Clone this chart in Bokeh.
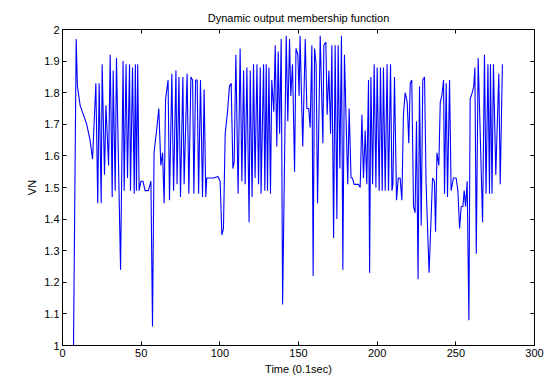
from bokeh.plotting import figure
from bokeh.models import LinearAxis, FixedTicker, Range1d
from bokeh.embed import file_html
from bokeh.resources import INLINE

time = [0, 7.0, 8.7, 9.5, 11.2, 13.3, 15.4, 17.5, 19.1, 21.2, 22.4, 23.3, 24.6, 25.2, 26.7, 27.6,
        29.3, 30.3, 31.6, 32.2, 33.5, 34.3, 36.9, 38.5, 39.2, 40.4, 41.3, 42.6, 43.2, 44.5, 45.6,
        46.3, 47.0, 47.8, 48.7, 49.8, 51.1, 52.5, 54.6, 56.2, 57.2, 58.2, 60.0, 61.2, 62.5, 63.6,
        64.6, 65.5, 67.1, 68.0, 69.5, 70.6, 72.1, 72.8, 74.0, 75.0, 76.5, 77.3, 79.2, 80.3, 81.6,
        82.7, 83.5, 84.6, 85.6, 86.5, 87.7, 89.0, 90.0, 91.1, 91.7, 94.7, 96.0, 98.8, 100.2, 101.3,
        102.3, 103.4, 104.9, 106.1, 107.2, 108.3, 109.1, 110.2, 111.6, 112.9, 114.0, 115.1, 116.1,
        117.2, 118.6, 119.3, 120.5, 121.4, 122.4, 123.6, 124.6, 125.7, 126.2, 127.8, 128.6, 129.5,
        130.3, 131.2, 132.2, 133.0, 134.3, 135.2, 136.2, 137.1, 138.0, 139.0, 139.9, 142.2, 143.2,
        144.3, 145.1, 146.2, 147.5, 148.4, 149.6, 150.4, 151.0, 152.7, 154.3, 155.3, 156.5, 157.4,
        158.5, 159.3, 160.2, 161.2, 162.1, 163.8, 165.5, 166.1, 167.4, 168.2, 169.3, 170.4, 171.2,
        172.3, 173.3, 174.4, 175.2, 176.3, 177.3, 178.2, 179.2, 181.3, 182.2, 183.4, 184.3, 185.3,
        187.1, 188.1, 189.2, 190.3, 191.3, 192.4, 193.4, 194.5, 195.2, 196.0, 197.1, 198.1, 199.2,
        200.0, 201.3, 202.1, 203.2, 204.0, 205.1, 206.3, 207.2, 208.5, 209.4, 210.0, 211.0, 212.3,
        213.4, 214.6, 215.7, 216.7, 217.8, 219.1, 220.1, 221.0, 222.0, 223.1, 224.1, 225.0, 226.0,
        226.9, 228.0, 229.0, 230.1, 231.1, 233.0, 235.2, 236.4, 237.1, 238.0, 239.2, 240.1, 241.1,
        242.2, 242.8, 243.9, 244.7, 246.0, 247.0, 248.5, 250.2, 251.3, 252.4, 253.4, 254.5, 255.3,
        256.2, 257.2, 258.3, 259.1, 260.4, 261.4, 262.1, 263.0, 264.2, 267.0, 268.2, 269.2, 270.4,
        271.4, 272.0, 273.0, 273.9, 275.4, 277.3, 278.2, 279.6]

vn = [1.0, 1.0, 1.97, 1.82, 1.76, 1.73, 1.70, 1.65, 1.59, 1.83, 1.45, 1.83, 1.45, 1.89, 1.54, 1.76,
      1.57, 1.92, 1.47, 1.87, 1.49, 1.91, 1.24, 1.90, 1.49, 1.89, 1.53, 1.89, 1.49, 1.88, 1.48,
      1.89, 1.49, 1.89, 1.49, 1.52, 1.52, 1.49, 1.49, 1.52, 1.06, 1.61, 1.69, 1.75, 1.57, 1.61,
      1.45, 1.78, 1.84, 1.46, 1.86, 1.49, 1.87, 1.51, 1.85, 1.47, 1.85, 1.51, 1.86, 1.48, 1.85,
      1.84, 1.48, 1.84, 1.84, 1.48, 1.84, 1.47, 1.81, 1.47, 1.53, 1.53, 1.53, 1.535, 1.52, 1.35,
      1.37, 1.67, 1.74, 1.82, 1.83, 1.56, 1.58, 1.92, 1.48, 1.94, 1.52, 1.87, 1.51,
      1.88, 1.39, 1.87, 1.47, 1.89, 1.53, 1.89, 1.51, 1.88, 1.48, 1.89, 1.49, 1.89,
      1.49, 1.88, 1.48, 1.84, 1.74, 1.95, 1.63, 1.93, 1.67, 1.97, 1.13, 1.98, 1.71,
      1.97, 1.79, 1.89, 1.55, 1.94, 1.92, 1.79, 1.98, 1.63, 1.97, 1.75, 1.75, 1.69,
      1.95, 1.22, 1.94, 1.89, 1.45, 1.98, 1.64, 1.95, 1.96, 1.73, 1.87, 1.67, 1.95,
      1.34, 1.95, 1.40, 1.95, 1.56, 1.98, 1.24, 1.92, 1.51, 1.75, 1.53, 1.53, 1.51,
      1.51, 1.51, 1.50, 1.73, 1.53, 1.68, 1.51, 1.84, 1.23, 1.85, 1.51, 1.89, 1.50,
      1.88, 1.49, 1.88, 1.49, 1.88, 1.49, 1.89, 1.49, 1.89, 1.49, 1.51, 1.85, 1.46,
      1.53, 1.53, 1.46, 1.73, 1.80, 1.77, 1.64, 1.83, 1.84, 1.44, 1.42, 1.71, 1.21,
      1.82, 1.38, 1.84, 1.85, 1.51, 1.23, 1.53, 1.52, 1.36, 1.61, 1.57, 1.77, 1.79,
      1.84, 1.48, 1.83, 1.47, 1.84, 1.49, 1.53, 1.53, 1.49, 1.37, 1.44, 1.44, 1.49,
      1.44, 1.52, 1.08, 1.78, 1.80, 1.82, 1.88, 1.29, 1.91, 1.39, 1.92, 1.48, 1.89,
      1.48, 1.89, 1.48, 1.89, 1.54, 1.86, 1.51, 1.89]

x_ticks = [0, 50, 100, 150, 200, 250, 300]
y_ticks = [1.0, 1.1, 1.2, 1.3, 1.4, 1.5, 1.6, 1.7, 1.8, 1.9, 2.0]
y_tick_labels = ["1", "1.1", "1.2", "1.3", "1.4", "1.5", "1.6", "1.7", "1.8", "1.9", "2"]

FONT = "Liberation Sans"

p = figure(width=548, height=378, x_range=Range1d(0, 300), y_range=Range1d(1, 2),
           output_backend="svg", toolbar_location=None,
           title="Dynamic output membership function",
           min_border_left=62, min_border_right=14, min_border_top=29, min_border_bottom=33)

p.line(time, vn, line_color="#0000ff", line_width=1.1)

p.xgrid.visible = False
p.ygrid.visible = False
p.outline_line_color = "black"
p.outline_line_width = 1
p.background_fill_color = "white"
p.border_fill_color = "white"

p.title.text_font = FONT
p.title.text_font_size = "11px"
p.title.text_font_style = "normal"
p.title.align = "center"
p.title.vertical_align = "top"
p.title.text_color = "black"
p.title.standoff = 8

p.xaxis.ticker = FixedTicker(ticks=x_ticks)
p.yaxis.ticker = FixedTicker(ticks=y_ticks)
p.yaxis.major_label_overrides = {t: l for t, l in zip(y_ticks, y_tick_labels)}
p.xaxis.axis_label = "Time (0.1sec)"
p.yaxis.axis_label = "VN"

for ax in (p.xaxis[0], p.yaxis[0]):
    ax.major_tick_in = 4
    ax.major_tick_out = 0
    ax.minor_tick_line_color = None
    ax.axis_line_color = "black"
    ax.major_tick_line_color = "black"
    ax.major_label_text_font = FONT
    ax.major_label_text_font_size = "11px"
    ax.major_label_text_color = "black"
    ax.axis_label_text_font = FONT
    ax.axis_label_text_font_size = "11px"
    ax.axis_label_text_font_style = "normal"
    ax.axis_label_text_color = "black"
    ax.major_label_standoff = 3
    ax.axis_label_standoff = 3

top = LinearAxis(ticker=FixedTicker(ticks=x_ticks), major_tick_in=4, major_tick_out=0,
                 minor_tick_line_color=None, major_label_standoff=0,
                 major_label_overrides={t: "" for t in x_ticks})
right = LinearAxis(ticker=FixedTicker(ticks=y_ticks), major_tick_in=4, major_tick_out=0,
                   minor_tick_line_color=None, major_label_standoff=0,
                   major_label_overrides={t: "" for t in y_ticks})
p.add_layout(top, "above")
p.add_layout(right, "right")

open("out.html", "w").write(file_html(p, INLINE))
